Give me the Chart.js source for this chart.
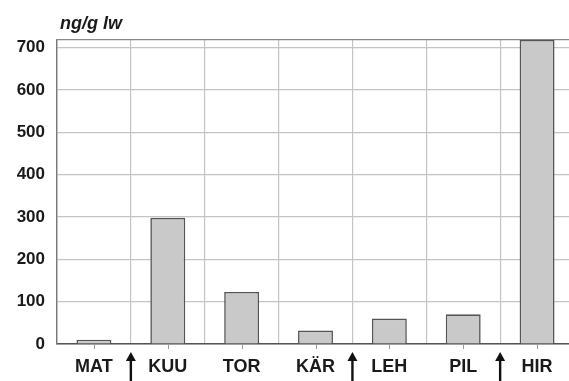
<!DOCTYPE html>
<html>
<head>
<meta charset="utf-8">
<script src="https://cdn.jsdelivr.net/npm/chart.js@4/dist/chart.umd.min.js"></script>
<style>
  html, body { margin: 0; padding: 0; background: #fff; overflow: hidden; }
  #wrap { width: 578px; height: 381px; }
</style>
</head>
<body>
<div id="wrap"><canvas id="c" width="578" height="381"></canvas></div>
<script>
// Sampling sites and concentrations (ng/g lipid weight)
const sites = ['MAT', 'KUU', 'TOR', 'KÄR', 'LEH', 'PIL', 'HIR'];
const concentration = [10, 298, 123, 32, 60, 70, 718];
// Upward arrows sit on the boundary after these site indices
const arrowAfter = [0, 3, 5];
const unitLabel = 'ng/g lw';
const yTickValues = [0, 100, 200, 300, 400, 500, 600, 700];
const yMax = 718;

const FONT = '"Liberation Sans", Arial, sans-serif';

const decorations = {
  id: 'decorations',
  afterDraw(chart) {
    const { ctx, chartArea, scales } = chart;
    const x = scales.x;
    ctx.save();
    // unit label above the plot
    ctx.font = 'italic bold 18px ' + FONT;
    ctx.fillStyle = '#1a1a1a';
    ctx.textAlign = 'left';
    ctx.textBaseline = 'alphabetic';
    ctx.fillText(unitLabel, chartArea.left + 3, 29);

    // small tick marks under each category
    ctx.strokeStyle = '#999';
    ctx.lineWidth = 1;
    sites.forEach((s, i) => {
      const px = Math.round(x.getPixelForValue(i)) + 0.5;
      ctx.beginPath();
      ctx.moveTo(px, chartArea.bottom);
      ctx.lineTo(px, chartArea.bottom + 5);
      ctx.stroke();
    });

    // upward arrows between categories
    ctx.fillStyle = '#111';
    ctx.strokeStyle = '#111';
    arrowAfter.forEach(i => {
      const px = (x.getPixelForValue(i) + x.getPixelForValue(i + 1)) / 2;
      const top = chartArea.bottom + 8;
      ctx.lineWidth = 2.4;
      ctx.beginPath();
      ctx.moveTo(px, top + 6);
      ctx.lineTo(px, chart.height);
      ctx.stroke();
      ctx.beginPath();
      ctx.moveTo(px, top);
      ctx.lineTo(px - 5, top + 9);
      ctx.lineTo(px + 5, top + 9);
      ctx.closePath();
      ctx.fill();
    });
    ctx.restore();
  }
};

new Chart(document.getElementById('c'), {
  type: 'bar',
  data: {
    labels: sites,
    datasets: [{
      data: concentration,
      backgroundColor: '#c9c9c9',
      borderColor: '#555',
      borderWidth: 1.6,
      barPercentage: 0.55,
      categoryPercentage: 0.86
    }]
  },
  options: {
    responsive: false,
    animation: false,
    layout: { padding: { top: 40, right: 4, left: 0, bottom: 0 } },
    plugins: { legend: { display: false }, tooltip: { enabled: false } },
    scales: {
      x: {
        offset: true,
        grid: { offset: true, color: '#c4c4c4', lineWidth: 1.2, drawTicks: false },
        border: { color: '#555', width: 1.6 },
        ticks: { color: '#1a1a1a', padding: 12, font: { family: FONT, size: 18, weight: 'bold' } },
        afterFit(s) { s.height = 37; }
      },
      y: {
        min: 0,
        max: yMax,
        afterBuildTicks(s) {
          s.ticks = yTickValues.map(v => ({ value: v })).concat([{ value: yMax }]);
        },
        grid: {
          drawTicks: false,
          lineWidth: 1.2,
          color: ctx => (ctx.tick && ctx.tick.value === yMax) ? '#888' : '#c4c4c4'
        },
        border: { color: '#777', width: 1.4 },
        ticks: {
          padding: 12,
          color: '#1a1a1a',
          font: { family: FONT, size: 17, weight: 'bold' },
          callback: v => (yTickValues.includes(v) ? v : '')
        },
        afterFit(s) { s.width = 57; }
      }
    }
  },
  plugins: [decorations]
});
</script>
</body>
</html>
